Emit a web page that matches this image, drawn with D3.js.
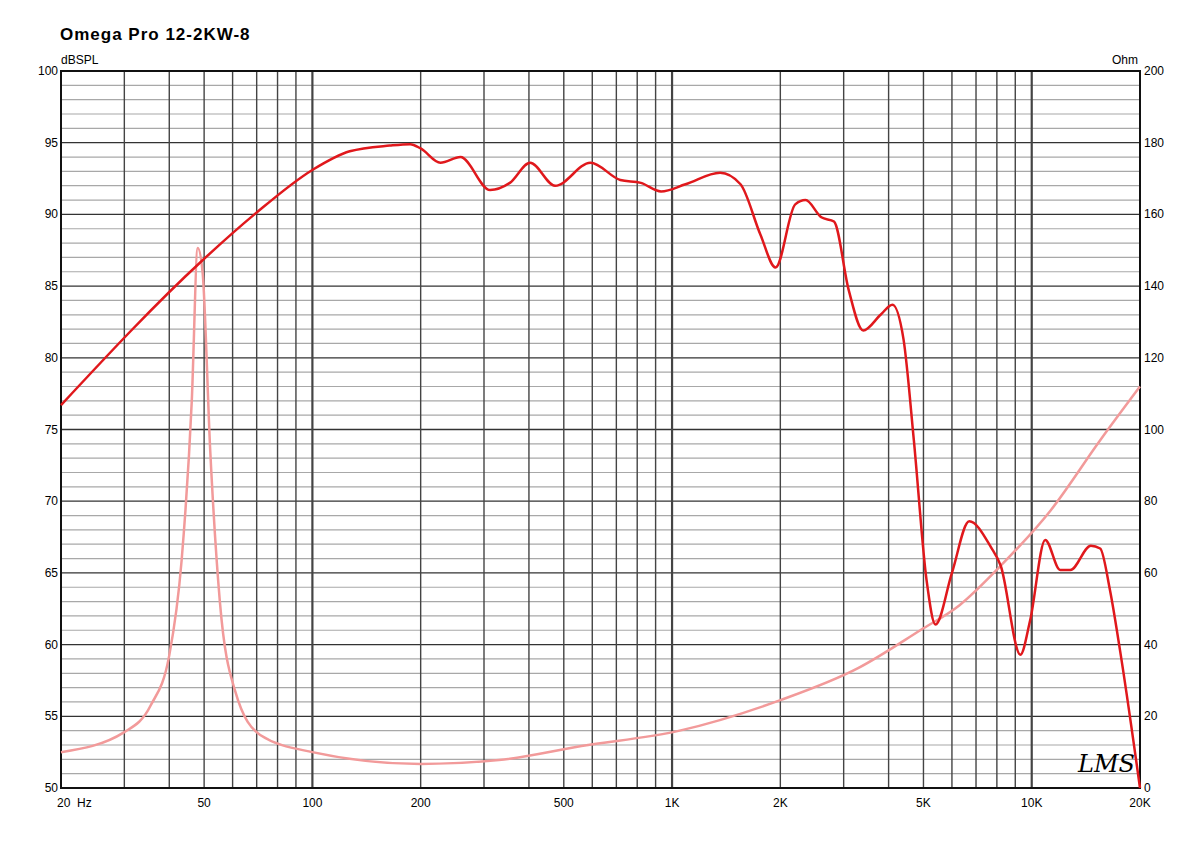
<!DOCTYPE html>
<html>
<head>
<meta charset="utf-8">
<style>
  body { margin: 0; background: #fff; font-family: 'Liberation Sans', Arial, sans-serif; }
  svg { display: block; }
</style>
</head>
<body>
<svg width="1200" height="867"></svg>
<script src="https://d3js.org/d3.v7.min.js"></script>
<script>
// SPL response (Hz, dB)
let splFreq = [20, 49, 69, 100, 127, 164, 187, 200, 227, 258, 312, 354, 403, 473, 593, 718, 819, 932, 1090, 1360, 1550, 1760, 1940, 2200, 2350, 2600, 2820, 3100, 3400, 3800, 4100, 4400, 4700, 5100, 5400, 6000, 6700, 7700, 8200, 9300, 9900, 10900, 12000, 12800, 14600, 15500, 16500, 17600, 20000];
let splDb = [76.7, 86.7, 90.0, 93.1, 94.4, 94.8, 94.9, 94.6, 93.6, 94.0, 91.7, 92.2, 93.6, 92.0, 93.6, 92.4, 92.2, 91.6, 92.1, 92.9, 92.1, 88.6, 86.3, 90.7, 91.0, 89.8, 89.5, 84.7, 81.9, 83.0, 83.7, 81.3, 74.3, 64.5, 61.4, 65.0, 68.6, 66.8, 65.5, 59.3, 61.7, 67.3, 65.2, 65.2, 66.9, 66.7, 63.8, 59.6, 50.0];

// Impedance (Hz, Ohm)
let impFreq = [20, 30, 35.5, 40, 43.3, 46.2, 48, 49.5, 52, 55.3, 61, 71.6, 100, 200, 330, 560, 1050, 2000, 3300, 4900, 6300, 8200, 11300, 15500, 20000];
let impOhm = [10, 15.6, 23, 37, 63.6, 108, 150.6, 144, 94, 52, 27, 14.8, 10, 6.7, 7.8, 11.7, 16, 24.5, 33.5, 44, 51, 62, 77.5, 97, 112];

let xTickVals = [20, 50, 100, 200, 500, 1000, 2000, 5000, 10000, 20000];
let xTickLabels = ["20  Hz", "50", "100", "200", "500", "1K", "2K", "5K", "10K", "20K"];
let dbTicks = [50, 55, 60, 65, 70, 75, 80, 85, 90, 95, 100];
let ohmTicks = [0, 20, 40, 60, 80, 100, 120, 140, 160, 180, 200];

let pLeft = 61, pRight = 1140, pTop = 71, pBottom = 788;
let svg = d3.select("svg");

let x = d3.scaleLog().domain([20, 20000]).range([pLeft, pRight]);
let y = d3.scaleLinear().domain([50, 100]).range([pBottom, pTop]);
let y2 = d3.scaleLinear().domain([0, 200]).range([pBottom, pTop]);

// minor horizontal grid (every dB)
svg.append("g").selectAll("line")
  .data(d3.range(50, 101).filter(d => d % 5 !== 0))
  .join("line")
  .attr("x1", pLeft).attr("x2", pRight)
  .attr("y1", d => y(d)).attr("y2", d => y(d))
  .style("stroke", "#a8a8a8").style("stroke-width", 1.2);

// major horizontal grid
svg.append("g").selectAll("line")
  .data(dbTicks)
  .join("line")
  .attr("x1", pLeft).attr("x2", pRight)
  .attr("y1", d => y(d)).attr("y2", d => y(d))
  .style("stroke", "#333").style("stroke-width", 1.3);

// vertical grid
let vlines = [];
[10, 100, 1000, 10000].forEach(dec => {
  for (let k = 1; k <= 9; k++) {
    let f = dec * k;
    if (f > 20 && f < 20000 && !(dec === 10 && k < 3)) vlines.push(f);
  }
});
svg.append("g").selectAll("line")
  .data(vlines)
  .join("line")
  .attr("y1", pTop).attr("y2", pBottom)
  .attr("x1", d => x(d)).attr("x2", d => x(d))
  .style("stroke", "#444")
  .style("stroke-width", d => [100, 1000, 10000].includes(d) ? 2.2 : 1.4);

// frame
svg.append("rect")
  .attr("x", pLeft).attr("y", pTop)
  .attr("width", pRight - pLeft).attr("height", pBottom - pTop)
  .style("fill", "none").style("stroke", "#111").style("stroke-width", 2);

// impedance curve
let impLine = d3.line()
  .x((d, i) => x(impFreq[i]))
  .y(d => y2(d))
  .curve(d3.curveMonotoneX);
svg.append("path")
  .attr("d", impLine(impOhm))
  .style("fill", "none").style("stroke", "#f29a9a").style("stroke-width", 2.5);

// SPL curve
let splLine = d3.line()
  .x((d, i) => x(splFreq[i]))
  .y(d => y(d))
  .curve(d3.curveMonotoneX);
svg.append("path")
  .attr("d", splLine(splDb))
  .style("fill", "none").style("stroke", "#e0181c").style("stroke-width", 2.5);

// axis labels
svg.append("g").selectAll("text")
  .data(dbTicks)
  .join("text")
  .attr("x", pLeft - 3).attr("y", d => y(d) + 4)
  .attr("text-anchor", "end")
  .style("font-size", "12px").text(d => d);

svg.append("g").selectAll("text")
  .data(ohmTicks)
  .join("text")
  .attr("x", pRight + 4).attr("y", d => y2(d) + 4)
  .style("font-size", "12px").text(d => d);

svg.append("g").selectAll("text")
  .data(xTickVals)
  .join("text")
  .attr("x", (d, i) => i === 0 ? x(d) - 4 : x(d))
  .attr("y", pBottom + 19)
  .attr("text-anchor", (d, i) => i === 0 ? "start" : "middle")
  .style("font-size", "12px")
  .style("white-space", "pre")
  .text((d, i) => xTickLabels[i]);

svg.append("text").attr("x", pLeft).attr("y", 64).style("font-size", "12px").text("dBSPL");
svg.append("text").attr("x", pRight - 2).attr("y", 64).attr("text-anchor", "end").style("font-size", "12px").text("Ohm");

svg.append("text").attr("x", 60).attr("y", 40)
  .style("font-size", "17px").style("font-weight", "bold").style("letter-spacing", "1px")
  .text("Omega Pro 12-2KW-8");

svg.append("text").attr("x", 1078).attr("y", 772)
  .style("font-size", "24px").style("font-style", "italic").style("font-family", "'DejaVu Serif', serif")
  .text("LMS");
</script>
</body>
</html>
